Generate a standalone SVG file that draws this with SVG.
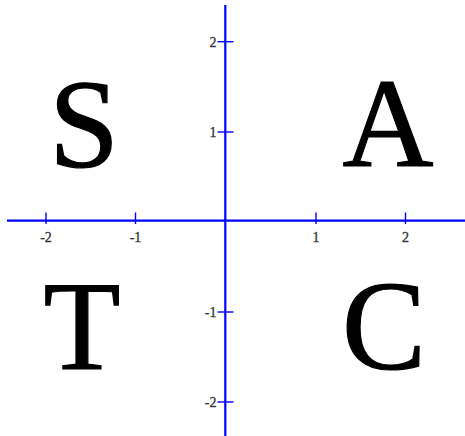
<svg xmlns="http://www.w3.org/2000/svg" width="465" height="436" viewBox="0 0 465 436">
<style>
.axis{stroke:#0000ff;stroke-width:2.2;fill:none}
.tick{stroke:#0000ff;stroke-width:1.4;fill:none}
.lbl{font-family:"Liberation Serif","Times New Roman",serif;font-size:14px;fill:#333;stroke:#333;stroke-width:0.3}
.big{font-family:"Liberation Serif","Times New Roman",serif;font-size:126px;fill:#000;stroke:#000;stroke-width:1.2;text-anchor:middle}
</style>
<rect width="465" height="436" fill="#fff"/>
<g id="connectors">
<line class="axis" x1="7" y1="220.7" x2="465" y2="220.7"/>
<line class="axis" x1="225.3" y1="5" x2="225.3" y2="436"/>
<g id="xticks">
<line class="tick" x1="46" y1="212.5" x2="46" y2="224"/>
<line class="tick" x1="135.5" y1="212.5" x2="135.5" y2="224"/>
<line class="tick" x1="316" y1="212.5" x2="316" y2="224"/>
<line class="tick" x1="405.5" y1="212.5" x2="405.5" y2="224"/>
</g>
<g id="yticks">
<line class="tick" x1="217.5" y1="41.7" x2="233.5" y2="41.7"/>
<line class="tick" x1="217.5" y1="132" x2="233.5" y2="132"/>
<line class="tick" x1="217.5" y1="312" x2="233.5" y2="312"/>
<line class="tick" x1="217.5" y1="402" x2="233.5" y2="402"/>
</g>
</g>
<g id="xlabels" class="lbl" text-anchor="middle">
<text x="46" y="242">-2</text>
<text x="135.5" y="242">-1</text>
<text x="316" y="242">1</text>
<text x="405.5" y="242">2</text>
</g>
<g id="ylabels" class="lbl" text-anchor="end">
<text x="216.5" y="46.5">2</text>
<text x="216.5" y="136.8">1</text>
<text x="216.5" y="316.8">-1</text>
<text x="216.5" y="406.8">-2</text>
</g>
<g id="S"><text class="big" x="84" y="167">S</text></g>
<g id="A"><text class="big" x="388" y="166">A</text></g>
<g id="T"><text class="big" x="82" y="368.5">T</text></g>
<g id="C"><text class="big" x="384" y="369">C</text></g>
</svg>
